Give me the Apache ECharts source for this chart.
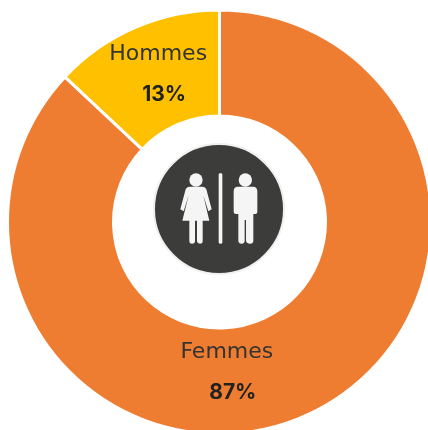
<!DOCTYPE html>
<html>
<head>
<meta charset="utf-8">
<style>
html, body { margin: 0; padding: 0; background: #fff; }
#box { width: 428px; height: 430px; }
</style>
<script src="https://cdn.jsdelivr.net/npm/echarts@6/dist/echarts.min.js"></script>
</head>
<body>
<div id="box"></div>
<script>
var categories = ['Femmes', 'Hommes'];
var values = [87, 13];

var myChart = echarts.init(document.getElementById('box'));

var womanPath = 'M148 170L188 170Q196 170 199 178L215 238L205 244L190 196L208 272L188 272L188 334Q188 341 180 341Q172 341 171 334L171 272L165 272L165 334Q165 341 156 341Q148 341 148 334L148 272L127 272L146 196L131 244L121 238L137 178Q140 170 148 170Z';
var manPath = 'M293 170L339 170Q352 170 352 184L352 245Q352 252 346 252L340 252L340 332Q340 341 330 341Q320 341 318 332L318 270L314 270L314 332Q314 341 304 341Q296 341 295 332L295 252L288 252Q281 252 281 245L281 184Q281 170 293 170Z';

// le composant graphic n'a pas de type path, on enregistre les deux silhouettes
echarts.graphic.registerShape('womanIcon', echarts.graphic.extendPath(womanPath, {}));
echarts.graphic.registerShape('manIcon', echarts.graphic.extendPath(manPath, {}));

var option = {
    animation: false,
    color: ['#EE7D31', '#FFC000'],
    series: [
        {
            type: 'pie',
            center: [219.5, 222],
            radius: [106, 212],
            startAngle: 90,
            silent: true,
            itemStyle: {
                borderColor: '#fff',
                borderWidth: 3
            },
            labelLine: { show: false },
            label: {
                show: true,
                position: 'inside',
                formatter: '{n|{b}}\n{p|{c}%}',
                rich: {
                    n: {
                        fontFamily: 'DejaVu Sans',
                        fontSize: 22,
                        color: '#333',
                        lineHeight: 40,
                        align: 'center'
                    },
                    p: {
                        fontFamily: 'Inter',
                        fontSize: 21,
                        fontWeight: 'bold',
                        color: '#222',
                        lineHeight: 40,
                        align: 'center',
                        padding: [0, 0, 0, 12]
                    }
                }
            },
            data: [
                { name: categories[0], value: values[0], label: { offset: [-57, 2] } },
                { name: categories[1], value: values[1], label: { offset: [3, 1] } }
            ]
        }
    ],
    graphic: [
        {
            type: 'circle',
            shape: { cx: 219, cy: 209, r: 65 },
            style: { fill: '#3C3C3A', stroke: '#F0F0F0', lineWidth: 2 }
        },
        {
            type: 'group',
            x: 140,
            y: 130,
            scaleX: 1 / 3,
            scaleY: 1 / 3,
            children: [
                { type: 'circle', shape: { cx: 168, cy: 150, r: 20 }, style: { fill: '#F5F5F5' } },
                { type: 'circle', shape: { cx: 316, cy: 150, r: 20 }, style: { fill: '#F5F5F5' } },
                { type: 'womanIcon', style: { fill: '#F5F5F5' } },
                { type: 'manIcon', style: { fill: '#F5F5F5' } },
                { type: 'rect', shape: { x: 236, y: 130, width: 11, height: 211, r: 4 }, style: { fill: '#F5F5F5' } }
            ]
        }
    ]
};

myChart.setOption(option);
</script>
</body>
</html>
